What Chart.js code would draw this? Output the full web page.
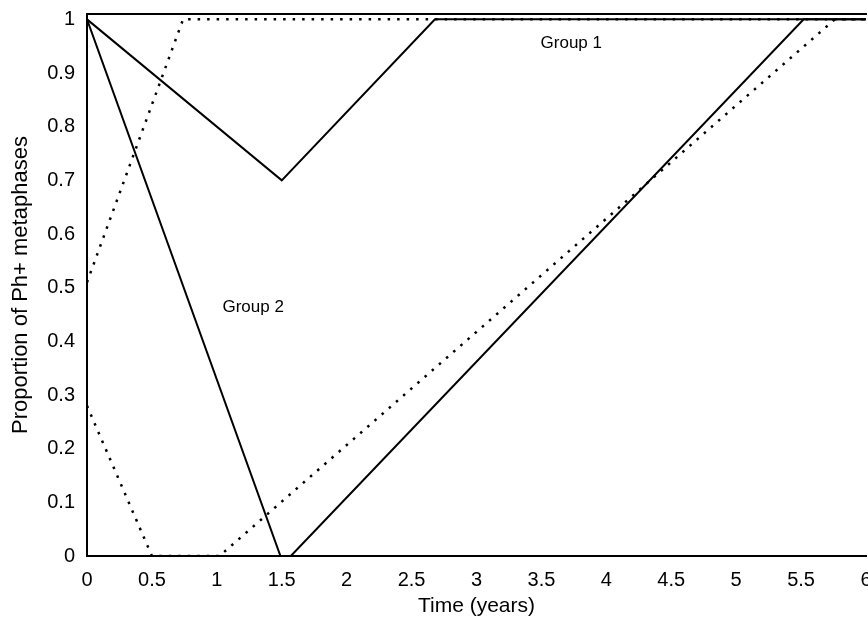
<!DOCTYPE html>
<html>
<head>
<meta charset="utf-8">
<title>Proportion of Ph+ metaphases</title>
<script src="https://cdn.jsdelivr.net/npm/chart.js@4"></script>
<style>
  html, body { margin: 0; padding: 0; background: #fff; overflow: hidden; }
  #wrap { width: 868px; height: 628px; }
</style>
</head>
<body>
<div id="wrap"><canvas id="chart"></canvas></div>
<script>
// values
var xTicks = [0, 0.5, 1, 1.5, 2, 2.5, 3, 3.5, 4, 4.5, 5, 5.5, 6];
var yTicks = [0, 0.1, 0.2, 0.3, 0.4, 0.5, 0.6, 0.7, 0.8, 0.9, 1];

// group 1
var g1SolidX = [0, 1.5, 2.68, 6];
var g1SolidY = [1, 0.7, 1, 1];
var g1DottedX = [0, 0.74, 6];
var g1DottedY = [0.51, 1, 1];

// group 2
var g2SolidX = [0, 1.49, 1.57, 5.52, 6];
var g2SolidY = [1, 0, 0, 1, 1];
var g2DottedX = [0, 0.5, 1.02, 5.76, 6];
var g2DottedY = [0.28, 0, 0, 1, 1];

var groupLabels = ['Group 1', 'Group 2'];
var groupLabelX = [3.73, 1.28];
var groupLabelY = [0.955, 0.464];

var fontFamily = '"Liberation Sans", Arial, Helvetica, sans-serif';

function points(xs, ys) {
  var out = [];
  for (var i = 0; i < xs.length; i++) {
    out.push({ x: xs[i], y: ys[i] });
  }
  return out;
}

function line(label, xs, ys, dotted) {
  return {
    label: label,
    data: points(xs, ys),
    borderColor: '#000',
    borderWidth: dotted ? 2.5 : 2,
    borderDash: dotted ? [2.5, 7] : [],
    pointRadius: 0,
    fill: false,
    tension: 0,
  };
}

// writes "Group 1" / "Group 2" inside the plot
var groupText = {
  id: 'groupText',
  afterDatasetsDraw: function (chart) {
    var ctx = chart.ctx;
    var sx = chart.scales.x;
    var sy = chart.scales.y;
    ctx.save();
    ctx.fillStyle = '#000';
    ctx.font = '17px ' + fontFamily;
    ctx.textAlign = 'center';
    ctx.textBaseline = 'middle';
    for (var i = 0; i < groupLabels.length; i++) {
      ctx.fillText(
        groupLabels[i],
        sx.getPixelForValue(groupLabelX[i]),
        sy.getPixelForValue(groupLabelY[i])
      );
    }
    ctx.restore();
  },
};

var ctx = document.getElementById('chart');
var chart = new Chart(ctx, {
  type: 'line',
  data: {
    datasets: [
      line('Group 1', g1SolidX, g1SolidY, false),
      line('Group 1 (dotted)', g1DottedX, g1DottedY, true),
      line('Group 2', g2SolidX, g2SolidY, false),
      line('Group 2 (dotted)', g2DottedX, g2DottedY, true),
    ],
  },
  options: {
    responsive: true,
    maintainAspectRatio: false,
    animation: false,
    layout: { padding: { top: 14, right: 2, left: 0, bottom: 0 } },
    plugins: {
      legend: { display: false },
      tooltip: { enabled: false },
    },
    scales: {
      x: {
        type: 'linear',
        min: 0,
        max: 6,
        grid: { display: false, drawTicks: false },
        border: { display: true, color: '#000', width: 2 },
        afterBuildTicks: function (scale) {
          scale.ticks = xTicks.map(function (v) { return { value: v }; });
        },
        ticks: {
          color: '#000',
          padding: 12,
          maxRotation: 0,
          autoSkip: false,
          font: { family: fontFamily, size: 20 },
          callback: function (v) { return String(v); },
        },
        title: {
          display: true,
          text: 'Time (years)',
          color: '#000',
          padding: { top: 0, bottom: 9 },
          font: { family: fontFamily, size: 21 },
        },
        afterFit: function (scale) {
          scale.height = 72;
          scale.paddingLeft = 0;
          scale.paddingRight = 0;
        },
      },
      xTop: {
        type: 'linear',
        position: 'top',
        min: 0,
        max: 6,
        grid: { display: false, drawTicks: false },
        border: { display: true, color: '#000', width: 2 },
        ticks: { display: false },
        afterFit: function (scale) {
          scale.height = 0;
          scale.paddingLeft = 0;
          scale.paddingRight = 0;
        },
      },
      y: {
        type: 'linear',
        min: 0,
        max: 1.01,
        grid: { display: false, drawTicks: false },
        border: { display: true, color: '#000', width: 2 },
        afterBuildTicks: function (scale) {
          scale.ticks = yTicks.map(function (v) { return { value: v }; });
        },
        ticks: {
          color: '#000',
          padding: 12,
          autoSkip: false,
          font: { family: fontFamily, size: 20 },
          callback: function (v) { return String(v); },
        },
        title: {
          display: true,
          text: 'Proportion of Ph+ metaphases',
          color: '#000',
          padding: { top: 8, bottom: 0 },
          font: { family: fontFamily, size: 22 },
        },
        afterFit: function (scale) {
          scale.width = 87;
          scale.paddingTop = 0;
          scale.paddingBottom = 0;
        },
      },
    },
  },
  plugins: [groupText],
});
</script>
</body>
</html>
